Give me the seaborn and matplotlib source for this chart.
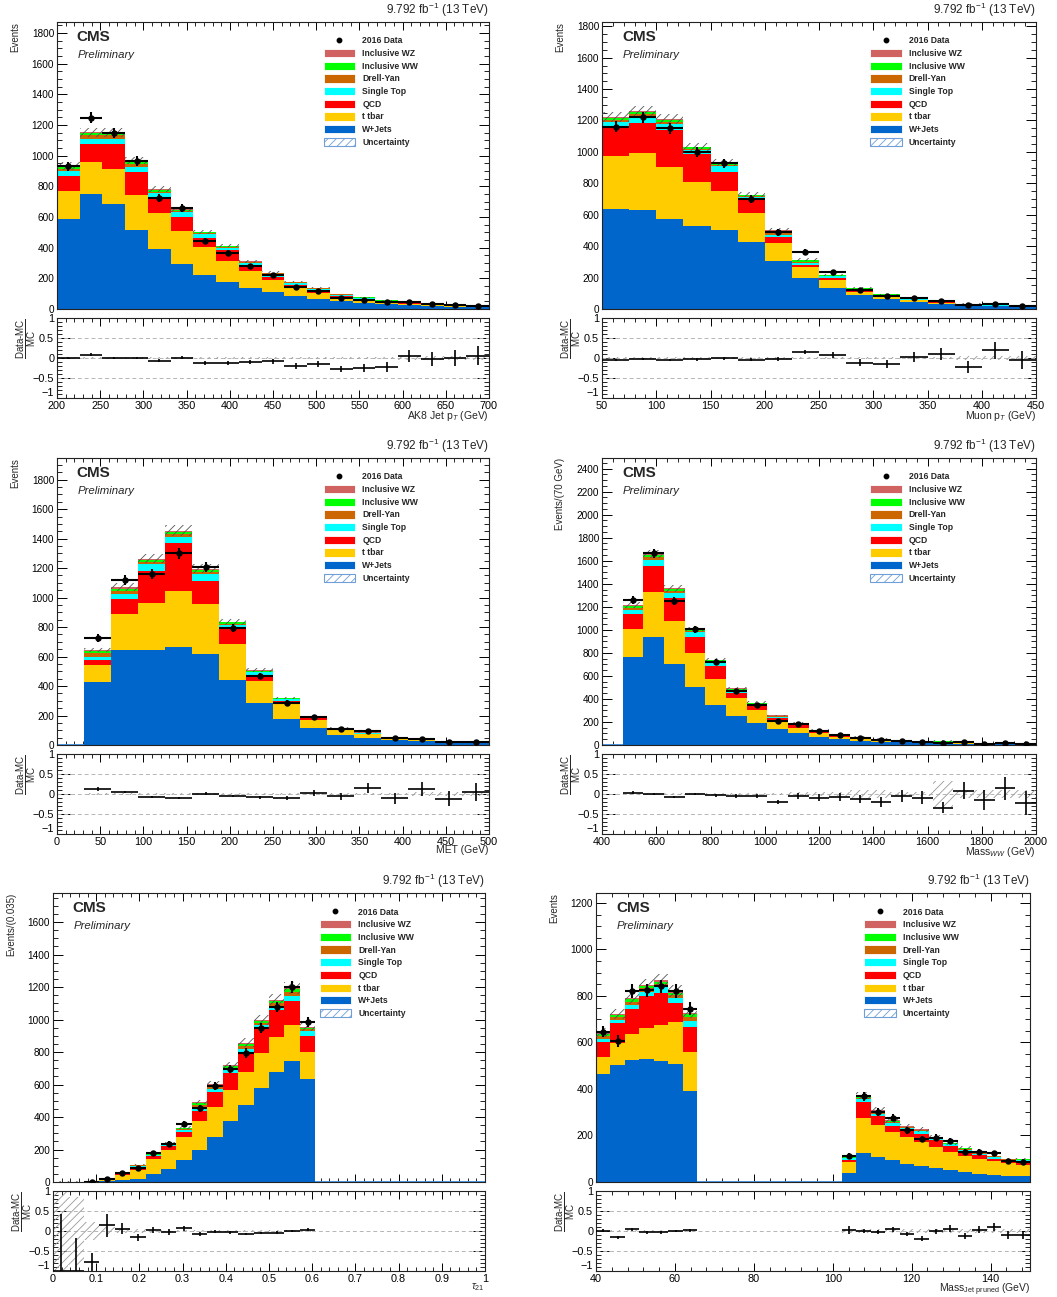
import numpy as np
import pandas as pd
import matplotlib
matplotlib.use("Agg")
import matplotlib.pyplot as plt
import seaborn as sns
from matplotlib.ticker import MultipleLocator, AutoMinorLocator, FuncFormatter
from matplotlib.patches import Patch
from matplotlib.lines import Line2D

sns.set_style("ticks")
plt.rcParams["font.family"] = ["Liberation Sans", "DejaVu Sans"]
plt.rcParams["mathtext.fontset"] = "custom"
plt.rcParams["mathtext.rm"] = "Liberation Sans"
plt.rcParams["mathtext.it"] = "Liberation Sans:italic"
plt.rcParams["mathtext.bf"] = "Liberation Sans:bold"
plt.rcParams["hatch.linewidth"] = 0.6

# ---------------- processes ----------------
PROCESSES = ["Inclusive WZ", "Inclusive WW", "Drell-Yan", "Single Top", "QCD", "t tbar", "W+Jets"]
COLORS = {"Inclusive WZ": "#d06262", "Inclusive WW": "#00ff00", "Drell-Yan": "#cc6600",
          "Single Top": "#00ffff", "QCD": "#ff0000", "t tbar": "#ffcc00", "W+Jets": "#0066cc"}

# ---------------- panel 1: AK8 jet pT ----------------
ak8_wjets = [585, 750, 683, 518, 393, 293, 225, 178, 134, 108, 85, 65, 50, 39, 30, 24, 17, 13, 11]
ak8_ttbar = [185, 208, 232, 228, 232, 214, 178, 134, 111, 79, 52, 39, 24, 17, 13, 9, 7, 4, 4]
ak8_qcd   = [100, 118, 161, 150, 99, 96, 61, 70, 33, 21, 21, 17, 13, 11, 7, 4, 3, 2, 1]
ak8_st    = [28, 34, 34, 32, 31, 28, 24, 15, 21, 20, 11, 11, 6, 5, 4, 3, 2, 2, 1]
ak8_dy    = [15, 24, 24, 17, 10, 9, 6, 6, 5, 4, 4, 3, 2, 2, 1, 1, 1, 1, 1]
ak8_ww    = [14, 13, 13, 16, 11, 8, 7, 7, 4, 4, 4, 2, 2, 2, 1, 1, 1, 1, 1]
ak8_wz    = [6, 6, 6, 7, 5, 4, 3, 3, 2, 2, 2, 1, 1, 1, 1, 1, 1, 1, 0]
ak8_data  = [930, 1249, 1149, 967, 725, 657, 443, 363, 279, 219, 143, 116, 71, 57, 44, 45, 31, 24, 20]
ak8_unc   = [0.025, 0.025, 0.025, 0.025, 0.025, 0.025, 0.025, 0.025, 0.025, 0.03, 0.03, 0.03,
             0.03, 0.03, 0.03, 0.04, 0.04, 0.04, 0.05]

# ---------------- panel 2: muon pT ----------------
mu_wjets = [637, 633, 570, 527, 502, 428, 305, 197, 136, 87, 66, 44, 34, 23, 19, 13]
mu_ttbar = [337, 360, 332, 280, 248, 186, 114, 70, 46, 23, 12, 11, 6, 5, 2, 2]
mu_qcd   = [176, 189, 237, 180, 122, 85, 38, 15, 15, 9, 5, 2, 2, 1, 1, 1]
mu_st    = [38, 42, 38, 25, 39, 13, 15, 10, 11, 6, 4, 4, 2, 2, 1, 1]
mu_dy    = [15, 17, 15, 9, 8, 6, 11, 7, 4, 3, 3, 2, 2, 1, 1, 1]
mu_ww    = [15, 13, 13, 10, 11, 6, 13, 10, 4, 3, 3, 2, 2, 1, 1, 1]
mu_wz    = [6, 4, 4, 2, 4, 4, 6, 4, 3, 2, 2, 1, 1, 1, 1, 0]
mu_data  = [1160, 1220, 1150, 1000, 927, 700, 487, 360, 236, 118, 81, 67, 54, 26, 31, 18]
mu_unc   = [0.025, 0.025, 0.025, 0.025, 0.025, 0.025, 0.025, 0.03, 0.03, 0.03, 0.03, 0.03,
            0.035, 0.04, 0.04, 0.05]

# ---------------- panel 3: MET ----------------
met_wjets = [0, 424, 645, 647, 665, 618, 438, 282, 176, 115, 70, 50, 36, 25, 18, 14]
met_ttbar = [0, 117, 241, 318, 382, 341, 248, 149, 104, 56, 31, 22, 9, 7, 2, 2]
met_qcd   = [0, 34, 104, 217, 324, 155, 106, 40, 20, 9, 5, 2, 2, 1, 1, 1]
met_st    = [0, 23, 36, 43, 41, 48, 22, 23, 11, 5, 4, 7, 3, 2, 1, 1]
met_dy    = [0, 29, 21, 18, 18, 13, 9, 4, 3, 2, 3, 2, 1, 1, 1, 1]
met_ww    = [0, 11, 13, 13, 16, 14, 9, 7, 4, 1, 2, 1, 2, 1, 1, 1]
met_wz    = [0, 7, 9, 7, 9, 6, 5, 5, 2, 1, 2, 1, 1, 1, 1, 0]
met_data  = [0, 725, 1117, 1157, 1301, 1207, 796, 467, 288, 192, 110, 98, 48, 43, 22, 21]
met_unc   = [0.0, 0.025, 0.025, 0.025, 0.025, 0.025, 0.025, 0.025, 0.025, 0.03, 0.03, 0.03,
             0.03, 0.04, 0.04, 0.04]

# ---------------- panel 4: Mass WW ----------------
mww_wjets = [0, 768, 936, 705, 503, 349, 254, 191, 139, 101, 72, 52, 38, 29, 23, 17, 14, 12, 9, 9, 6]
mww_ttbar = [0, 237, 390, 375, 300, 226, 153, 112, 60, 46, 32, 20, 14, 11, 6, 6, 6, 5, 3, 2, 1]
mww_qcd   = [0, 130, 228, 194, 138, 115, 44, 32, 35, 35, 12, 9, 6, 9, 3, 3, 6, 2, 0, 1, 1]
mww_st    = [0, 40, 52, 43, 38, 26, 23, 17, 11, 6, 5, 6, 6, 2, 3, 2, 2, 1, 1, 1, 1]
mww_dy    = [0, 18, 23, 17, 9, 9, 5, 6, 3, 2, 3, 3, 3, 2, 2, 2, 2, 1, 0, 0, 0]
mww_ww    = [0, 17, 20, 18, 14, 11, 9, 6, 6, 2, 4, 3, 3, 1, 2, 1, 1, 1, 1, 1, 0]
mww_wz    = [0, 6, 12, 8, 6, 6, 3, 3, 3, 2, 2, 2, 2, 1, 1, 1, 1, 1, 0, 0, 0]
mww_data  = [0, 1259, 1664, 1253, 1005, 720, 466, 349, 206, 184, 118, 88, 63, 44, 38, 29, 21, 25, 12, 16, 7]
mww_unc   = [0.0, 0.02, 0.02, 0.02, 0.02, 0.02, 0.02, 0.03, 0.03, 0.04, 0.04, 0.05, 0.1, 0.1,
             0.06, 0.06, 0.32, 0.1, 0.1, 0.1, 0.1]

# ---------------- panel 5: tau21 ----------------
tau_wjets = [0.2, 0.4, 0.6, 5, 12, 21, 47, 80, 136, 199, 278, 376, 475, 576, 675, 744, 633,
             0, 0, 0, 0, 0, 0, 0, 0, 0, 0, 0]
tau_ttbar = [0.35, 0.7, 1.7, 6, 29, 53, 95, 119, 138, 175, 183, 190, 204, 220, 220, 223, 165,
             0, 0, 0, 0, 0, 0, 0, 0, 0, 0, 0]
tau_qcd   = [0.55, 0.9, 1.9, 2, 6, 21, 16, 25, 34, 64, 90, 102, 117, 150, 164, 146, 103,
             0, 0, 0, 0, 0, 0, 0, 0, 0, 0, 0]
tau_st    = [0.1, 0.1, 0.2, 0.5, 2, 6, 7, 8, 15, 25, 23, 21, 23, 21, 21, 35, 27,
             0, 0, 0, 0, 0, 0, 0, 0, 0, 0, 0]
tau_dy    = [0.1, 0.1, 0.1, 0.3, 1, 2, 4, 4, 6, 12, 12, 12, 18, 10, 21, 24, 12,
             0, 0, 0, 0, 0, 0, 0, 0, 0, 0, 0]
tau_ww    = [0, 0, 0, 0.2, 1, 2, 3, 3, 4, 10, 10, 11, 12, 14, 14, 17, 10,
             0, 0, 0, 0, 0, 0, 0, 0, 0, 0, 0]
tau_wz    = [0, 0, 0, 0, 0, 1, 1, 2, 2, 7, 7, 6, 9, 6, 8, 6, 6,
             0, 0, 0, 0, 0, 0, 0, 0, 0, 0, 0]
tau_data  = [0, 0, 1, 16, 54, 89, 178, 235, 358, 455, 591, 696, 794, 947, 1078, 1200, 985,
             0, 0, 0, 0, 0, 0, 0, 0, 0, 0, 0]
tau_unc   = [1.5, 0.85, 0.23, 0.1, 0.06, 0.04, 0.04, 0.03, 0.03, 0.03, 0.03, 0.03, 0.03, 0.03,
             0.03, 0.03, 0.03, 0, 0, 0, 0, 0, 0, 0, 0, 0, 0, 0]

# ---------------- panel 6: pruned jet mass ----------------
mj_wjets = [466, 503, 525, 529, 520, 507, 391, 0, 0, 0, 0, 0, 0, 0, 0, 0, 0,
            39, 126, 108, 93, 79, 69, 60, 52, 43, 36, 30, 27, 24]
mj_ttbar = [71, 93, 110, 135, 155, 183, 168, 0, 0, 0, 0, 0, 0, 0, 0, 0, 0,
            49, 151, 136, 121, 115, 103, 91, 77, 69, 63, 61, 55, 51]
mj_qcd   = [64, 87, 108, 134, 137, 79, 109, 0, 0, 0, 0, 0, 0, 0, 0, 0, 0,
            8, 65, 39, 27, 29, 36, 29, 26, 17, 15, 10, 7, 8]
mj_st    = [13, 15, 20, 21, 26, 23, 26, 0, 0, 0, 0, 0, 0, 0, 0, 0, 0,
            7, 13, 9, 13, 8, 10, 8, 7, 10, 7, 7, 7, 10]
mj_dy    = [13, 13, 13, 15, 14, 14, 14, 0, 0, 0, 0, 0, 0, 0, 0, 0, 0,
            2, 6, 5, 6, 4, 4, 2, 3, 3, 2, 2, 2, 2]
mj_ww    = [8, 8, 10, 10, 9, 9, 15, 0, 0, 0, 0, 0, 0, 0, 0, 0, 0,
            2, 8, 8, 4, 3, 3, 2, 2, 3, 1, 1, 2, 2]
mj_wz    = [6, 4, 4, 5, 6, 6, 4, 0, 0, 0, 0, 0, 0, 0, 0, 0, 0,
            2, 3, 4, 2, 2, 2, 1, 1, 2, 1, 1, 1, 1]
mj_data  = [647, 607, 822, 824, 841, 821, 745, 0, 0, 0, 0, 0, 0, 0, 0, 0, 0,
            112, 368, 300, 277, 222, 184, 191, 178, 129, 129, 123, 91, 88]
mj_unc   = [0.03, 0.03, 0.03, 0.03, 0.03, 0.03, 0.03, 0, 0, 0, 0, 0, 0, 0, 0, 0, 0,
            0.04, 0.04, 0.04, 0.04, 0.04, 0.05, 0.05, 0.04, 0.04, 0.04, 0.04, 0.04, 0.04]

PANELS = [
    dict(comps=[ak8_wjets, ak8_ttbar, ak8_qcd, ak8_st, ak8_dy, ak8_ww, ak8_wz], data=ak8_data, unc=ak8_unc,
         lo=200, hi=700, n=19, ymax=1872, xmajor=50, ymajor=200,
         ylabel="Events", xlabel=r"AK8 Jet p$_{T}$ (GeV)",
         main=(57, 22, 489, 309), ratio=(57, 318, 489, 398)),
    dict(comps=[mu_wjets, mu_ttbar, mu_qcd, mu_st, mu_dy, mu_ww, mu_wz], data=mu_data, unc=mu_unc,
         lo=50, hi=450, n=16, ymax=1827, xmajor=50, ymajor=200,
         ylabel="Events", xlabel=r"Muon p$_{T}$ (GeV)",
         main=(602, 22, 1036, 309), ratio=(602, 318, 1036, 398)),
    dict(comps=[met_wjets, met_ttbar, met_qcd, met_st, met_dy, met_ww, met_wz], data=met_data, unc=met_unc,
         lo=0, hi=500, n=16, ymax=1947, xmajor=50, ymajor=200,
         ylabel="Events", xlabel="MET (GeV)",
         main=(57, 458, 489, 745), ratio=(57, 754, 489, 834)),
    dict(comps=[mww_wjets, mww_ttbar, mww_qcd, mww_st, mww_dy, mww_ww, mww_wz], data=mww_data, unc=mww_unc,
         lo=400, hi=2000, n=21, ymax=2492, xmajor=200, ymajor=200,
         ylabel="Events/(70 GeV)", xlabel=r"Mass$_{WW}$ (GeV)",
         main=(602, 458, 1036, 745), ratio=(602, 754, 1036, 834)),
    dict(comps=[tau_wjets, tau_ttbar, tau_qcd, tau_st, tau_dy, tau_ww, tau_wz], data=tau_data, unc=tau_unc,
         lo=0, hi=1, n=28, ymax=1779, xmajor=0.1, ymajor=200,
         ylabel="Events/(0.035)", xlabel=r"$\tau_{21}$",
         main=(53, 893, 485, 1182), ratio=(53, 1191, 485, 1271)),
    dict(comps=[mj_wjets, mj_ttbar, mj_qcd, mj_st, mj_dy, mj_ww, mj_wz], data=mj_data, unc=mj_unc,
         lo=40, hi=150, n=30, ymax=1243, xmajor=20, ymajor=200,
         ylabel="Events", xlabel=r"Mass$_{\mathrm{Jet\ pruned}}$ (GeV)",
         main=(596, 893, 1030, 1182), ratio=(596, 1191, 1030, 1271)),
]
COMP_NAMES = ["W+Jets", "t tbar", "QCD", "Single Top", "Drell-Yan", "Inclusive WW", "Inclusive WZ"]

W, H = 1057, 1297
fig = plt.figure(figsize=(W / 100, H / 100), dpi=100)


def box(l, t, r, b):
    return [l / W, 1 - b / H, (r - l) / W, (b - t) / H]


def fmt(v, p):
    s = "%g" % round(v, 6)
    return s.replace("-", "\u2212")


def style_axes(ax, xmajor, ymajor, ratio=False):
    ax.xaxis.set_major_locator(MultipleLocator(xmajor))
    ax.xaxis.set_minor_locator(AutoMinorLocator(5))
    ax.tick_params(which="both", direction="in", top=True, right=True, colors="black")
    ax.tick_params(axis="x", which="major", length=5.5, width=0.7)
    ax.tick_params(axis="x", which="minor", length=2.8, width=0.6)
    ax.tick_params(axis="y", which="major", length=9 if ratio else 7.5, width=0.7)
    ax.tick_params(axis="y", which="minor", length=3.8, width=0.6)
    ax.yaxis.set_major_locator(MultipleLocator(ymajor))
    ax.yaxis.set_minor_locator(AutoMinorLocator(5 if ratio else 4))
    for s in ax.spines.values():
        s.set_linewidth(0.8)
        s.set_color("#222222")
        s.set_visible(True)


ratio_axes = []
for P in PANELS:
    edges = np.linspace(P["lo"], P["hi"], P["n"] + 1)
    centers = 0.5 * (edges[:-1] + edges[1:])
    halfw = 0.5 * (edges[1:] - edges[:-1])
    comps = [np.asarray(c, dtype=float) for c in P["comps"]]
    total = np.sum(comps, axis=0)
    data = np.asarray(P["data"], dtype=float)
    unc = np.asarray(P["unc"], dtype=float)

    ax = fig.add_axes(box(*P["main"]))
    axr = fig.add_axes(box(*P["ratio"]))
    ratio_axes.append(axr)

    rows = []
    for name, vals in zip(COMP_NAMES, comps):
        for c, v in zip(centers, vals):
            rows.append((c, v, name))
    df = pd.DataFrame(rows, columns=["x", "w", "process"])

    # zero line in empty bins (W+Jets outline)
    for i in range(P["n"]):
        if total[i] == 0:
            ax.plot(edges[i:i + 2], [0, 0], color="#3d8fe0", lw=1.3, zorder=1, solid_capstyle="butt")

    sns.histplot(data=df, x="x", weights="w", hue="process", hue_order=PROCESSES, palette=COLORS,
                 bins=[float(e) for e in edges], multiple="stack", element="step", fill=True,
                 alpha=1, linewidth=0, legend=False, ax=ax, zorder=2)

    ax.stairs(total * (1 + unc), edges, baseline=total * (1 - unc), fill=True, facecolor="none",
              edgecolor="#555555", hatch="////", linewidth=0, zorder=3)

    m = data > 0
    ax.errorbar(centers[m], data[m], xerr=halfw[m], yerr=np.sqrt(data[m]), fmt="o", color="black",
                ms=3.6, elinewidth=1.5, capsize=0, zorder=5)

    ax.set_xlim(P["lo"], P["hi"])
    ax.set_ylim(0, P["ymax"])
    style_axes(ax, P["xmajor"], P["ymajor"])
    ax.tick_params(axis="x", labelbottom=False)
    ax.tick_params(axis="y", labelsize=7.2, pad=2)
    ax.yaxis.set_major_formatter(FuncFormatter(fmt))
    ax.set_xlabel("")
    ax.set_ylabel(P["ylabel"], loc="top", fontsize=7)
    ax.yaxis.set_label_coords(-0.085, 1.0)

    ax.text(0.046, 0.948, "CMS", transform=ax.transAxes, fontsize=11, fontweight="bold",
            ha="left", va="center")
    ax.text(0.048, 0.885, "Preliminary", transform=ax.transAxes, fontsize=8.2, style="italic",
            ha="left", va="center")
    ax.text(1.0, 1.012, r"9.792 fb$^{-1}$ (13 TeV)", transform=ax.transAxes, fontsize=8.5,
            ha="right", va="bottom")

    handles = [Line2D([], [], marker="o", color="black", ls="none", ms=3.2)]
    labels = ["2016 Data"]
    for name in PROCESSES:
        handles.append(Patch(facecolor=COLORS[name], edgecolor="white", linewidth=0.6))
        labels.append(name)
    handles.append(Patch(facecolor="white", edgecolor="#6f9fd8", hatch="////", linewidth=0.8))
    labels.append("Uncertainty")
    ax.legend(handles, labels, loc="upper left", bbox_to_anchor=(0.617, 0.95), frameon=False,
              prop=dict(size=6.2, weight="bold"), handlelength=3.7, handleheight=1.1,
              handletextpad=0.8, labelspacing=0.42, borderpad=0, borderaxespad=0)

    # ratio panel (empty data bins with MC shown at -1 with a one-sided Poisson upper error)
    ok = total > 0
    ratio = (data[ok] - total[ok]) / total[ok]
    dn = np.sqrt(data[ok])
    up = np.where(data[ok] > 0, np.sqrt(data[ok]), 1.84)
    rerr = np.vstack([dn / total[ok], up / total[ok]])
    uplot = np.where(total > 0, unc, 0.0)
    axr.stairs(uplot, edges, baseline=-uplot, fill=True, facecolor="none", edgecolor="#9a9a9a",
               hatch="////", linewidth=0, zorder=2)
    for yv in (-0.5, 0.0, 0.5):
        axr.axhline(yv, color="#b5b5b5", ls=(0, (4, 3)), lw=0.7, zorder=1)
    axr.errorbar(centers[ok], ratio, xerr=halfw[ok], yerr=rerr, fmt="none", ecolor="black",
                 elinewidth=1.2, capsize=0, zorder=4)
    axr.set_xlim(P["lo"], P["hi"])
    axr.set_ylim(-1, 1)
    style_axes(axr, P["xmajor"], 0.5, ratio=True)
    axr.set_yticks([-1, -0.5, 0, 0.5, 1])
    axr.tick_params(axis="both", labelsize=7.8, pad=2)
    axr.xaxis.set_major_formatter(FuncFormatter(fmt))
    axr.yaxis.set_major_formatter(FuncFormatter(fmt))
    axr.set_xlabel(P["xlabel"], loc="right", fontsize=7.5, labelpad=-1.5)
    axr.set_ylabel(r"$\frac{\mathrm{Data\text{-}MC}}{\mathrm{MC}}$", loc="top", fontsize=10)
    axr.yaxis.set_label_coords(-0.042, 1.0)

fig.canvas.draw()
for axr in ratio_axes:
    for tick, loc in zip(axr.yaxis.get_major_ticks(), axr.yaxis.get_majorticklocs()):
        if np.isclose(loc, -1):
            tick.label1.set_va("bottom")

fig.savefig("out.png", dpi=100)
